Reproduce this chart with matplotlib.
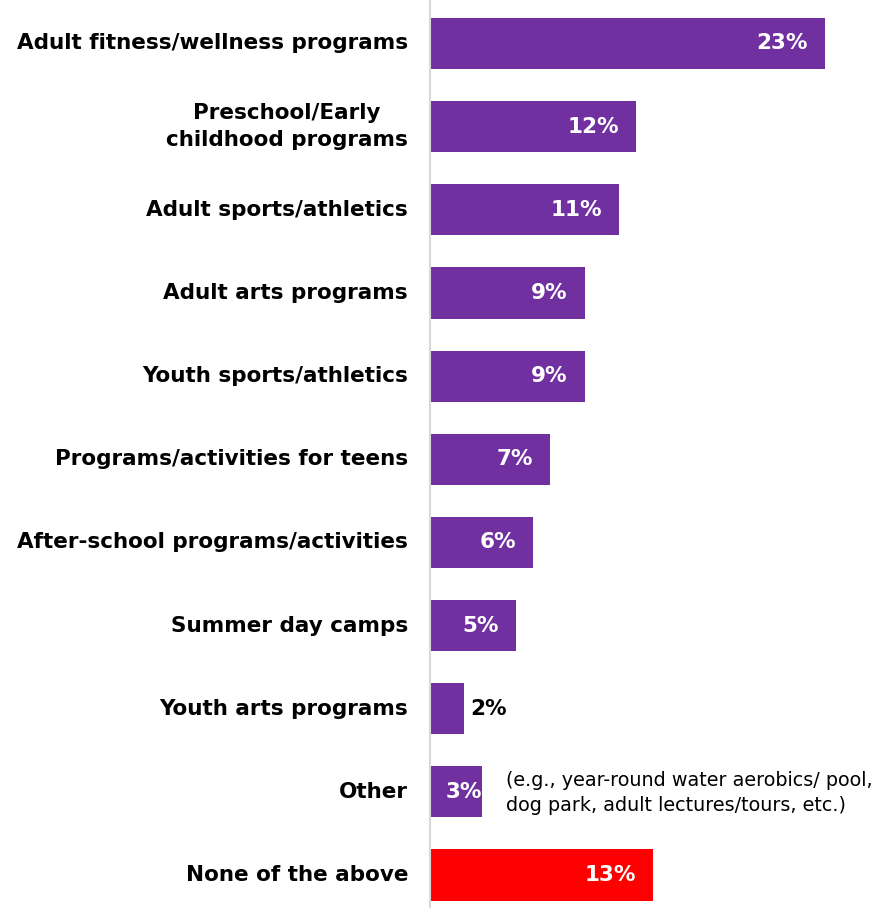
import matplotlib.pyplot as plt

categories = ['Adult fitness/wellness programs', 'Preschool/Early\nchildhood programs',
              'Adult sports/athletics', 'Adult arts programs', 'Youth sports/athletics',
              'Programs/activities for teens', 'After-school programs/activities',
              'Summer day camps', 'Youth arts programs', 'Other', 'None of the above']
values = [23, 12, 11, 9, 9, 7, 6, 5, 2, 3, 13]
labels = ['23%', '12%', '11%', '9%', '9%', '7%', '6%', '5%', '2%', '3%', '13%']
other_note = '(e.g., year-round water aerobics/ pool,\ndog park, adult lectures/tours, etc.)'

purple = '#7030A0'
red = '#FF0000'
colors = [purple] * 10 + [red]

fig = plt.figure(figsize=(8.89, 9.08), dpi=100)
ax = fig.add_axes([430 / 889, 0, 1 - 430 / 889, 1])

y = list(range(len(values)))
ax.barh(y, values, height=0.615, color=colors)

ax.set_xlim(0, 459 / 17.17)
ax.set_ylim(10.397, -0.523)

for s in ['top', 'right', 'bottom']:
    ax.spines[s].set_visible(False)
ax.spines['left'].set_color('#d9d9d9')
ax.spines['left'].set_linewidth(1.5)
ax.set_xticks([])
ax.set_yticks([])

# category labels on the left
for i, c in enumerate(categories):
    ax.annotate(c, xy=(0, i), xytext=(-22, 0), textcoords='offset pixels',
                ha='right', va='center', multialignment='center',
                fontsize=15.5, fontweight='bold', color='black',
                linespacing=1.45)

# value labels
for i, (v, lab) in enumerate(zip(values, labels)):
    if v >= 5:
        ax.annotate(lab, xy=(v, i), xytext=(-17, 0), textcoords='offset pixels',
                    ha='right', va='center', fontsize=15.5, fontweight='bold', color='white')
    elif v == 3:
        ax.annotate(lab, xy=(0, i), xytext=(16, 0), textcoords='offset pixels',
                    ha='left', va='center', fontsize=15.5, fontweight='bold', color='white')
    else:
        ax.annotate(lab, xy=(v, i), xytext=(6, 0), textcoords='offset pixels',
                    ha='left', va='center', fontsize=15.5, fontweight='bold', color='black')

ax.annotate(other_note, xy=(3, 9), xytext=(24, -1), textcoords='offset pixels',
            ha='left', va='center', fontsize=13.8, color='black', linespacing=1.4)

fig.savefig('out.png', dpi=100, facecolor='white')
